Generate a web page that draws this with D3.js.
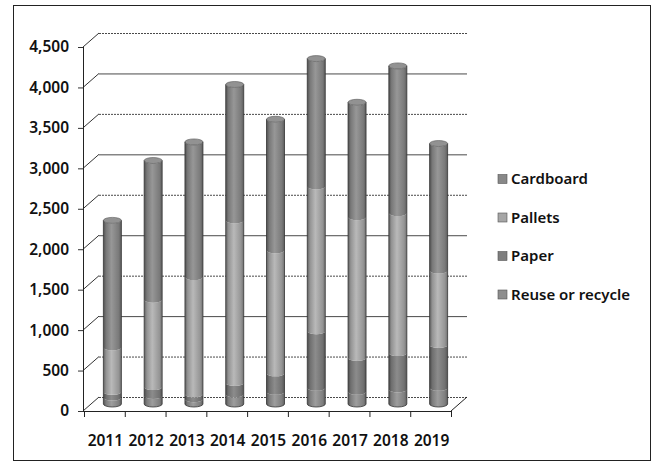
<!DOCTYPE html>
<html><head><meta charset="utf-8">
<script src="https://cdn.jsdelivr.net/npm/d3@7"></script>
<style>html,body{margin:0;padding:0;background:#fff;}svg{display:block;font-family:"Noto Sans",sans-serif;}</style>
</head><body>
<svg id="c" width="654" height="466"></svg>
<script>
const years = ["2011","2012","2013","2014","2015","2016","2017","2018","2019"];
const reuse     = [80, 100, 60, 120, 150, 200, 150, 180, 200];
const paper     = [70, 110, 60, 140, 230, 700, 420, 450, 530];
const pallets   = [550, 1080, 1450, 2010, 1520, 1790, 1740, 1730, 920];
const cardboard = [1570, 1720, 1670, 1680, 1620, 1580, 1420, 1820, 1570];
const seriesNames = ["Reuse or recycle","Paper","Pallets","Cardboard"];
const yTicks = [0,500,1000,1500,2000,2500,3000,3500,4000,4500];

const colors = {"Reuse or recycle":"#8d8d8d","Paper":"#7e7e7e","Pallets":"#a6a6a6","Cardboard":"#888888"};

const svg = d3.select("#c");
const DX=16, DY=-14;
const y = d3.scaleLinear().domain([0,4500]).range([411,47]);
const x = d3.scaleBand().domain(years).range([84,451]);

svg.append("rect").attr("x",13.5).attr("y",5.5).attr("width",637).attr("height",455)
  .attr("fill","none").attr("stroke","#222").attr("stroke-width",1);

const defs = svg.append("defs");
seriesNames.forEach((s,i)=>{
  const c = d3.color(colors[s]);
  const g = defs.append("linearGradient").attr("id","g"+i).attr("x1",0).attr("x2",1).attr("y1",0).attr("y2",0);
  g.append("stop").attr("offset","0%").attr("stop-color",c.darker(1.5));
  g.append("stop").attr("offset","15%").attr("stop-color",c.darker(0.35));
  g.append("stop").attr("offset","45%").attr("stop-color",c.brighter(0.3));
  g.append("stop").attr("offset","85%").attr("stop-color",c.darker(0.3));
  g.append("stop").attr("offset","100%").attr("stop-color",c.darker(1.1));
});

const grid = svg.append("g");
yTicks.forEach(t=>{
  const yf=y(t);
  grid.append("line").attr("x1",83+DX).attr("x2",451+DX).attr("y1",yf+DY+0.5).attr("y2",yf+DY+0.5)
    .attr("stroke","#4a4a4a").attr("stroke-width",1).attr("stroke-dasharray", t%1000===0&&t>0?null:"2,1");
  grid.append("line").attr("x1",83).attr("y1",yf).attr("x2",83+DX).attr("y2",yf+DY)
    .attr("stroke","#333").attr("stroke-width",1);
  grid.append("line").attr("x1",78).attr("x2",83).attr("y1",yf+0.5).attr("y2",yf+0.5)
    .attr("stroke","#333").attr("stroke-width",1);
});
svg.append("line").attr("x1",83.5).attr("x2",83.5).attr("y1",y(4500)).attr("y2",y(0)).attr("stroke","#222");
svg.append("line").attr("x1",83).attr("x2",451).attr("y1",411.5).attr("y2",411.5).attr("stroke","#222");
svg.append("line").attr("x1",451).attr("y1",411).attr("x2",451+DX).attr("y2",411+DY).attr("stroke","#222");
const tickXs = years.map(d=>x(d)).concat([x.range()[1]]);
tickXs.forEach(tx=>{
  svg.append("line").attr("x1",tx+0.5).attr("x2",tx+0.5).attr("y1",411).attr("y2",417).attr("stroke","#222");
});

svg.append("g").selectAll("text").data(yTicks).join("text")
  .attr("x",69).attr("y",d=>y(d)).attr("dy","0.35em").attr("text-anchor","end")
  .attr("font-size",15.5).attr("font-weight",600).attr("fill","#111")
  .text(d=>d3.format(",")(d));
svg.append("g").selectAll("text").data(years).join("text")
  .attr("x",d=>x(d)+x.bandwidth()/2+1).attr("y",441).attr("dy","0.35em").attr("text-anchor","middle")
  .attr("font-size",15.5).attr("font-weight",600).attr("fill","#111")
  .text(d=>d);

const data = years.map((yr,i)=>({year:yr,"Reuse or recycle":reuse[i],"Paper":paper[i],"Pallets":pallets[i],"Cardboard":cardboard[i]}));
const stack = d3.stack().keys(seriesNames)(data);
const rx=9, ry=3;
const bars = svg.append("g");
years.forEach((yr,j)=>{
  const cx = x(yr)+x.bandwidth()/2+DX/2;
  const L=cx-rx, R=cx+rx;
  stack.forEach((layer,i)=>{
    const d=layer[j];
    const yb=y(d[0])+DY/2, yt=y(d[1])+DY/2;
    const p=`M${L},${yt} L${L},${yb} A${rx},${ry} 0 0 0 ${R},${yb} L${R},${yt} A${rx},${ry} 0 0 1 ${L},${yt} Z`;
    bars.append("path").attr("d",p).attr("fill",`url(#g${i})`).attr("stroke","none");
  });
  const top=stack[stack.length-1][j][1];
  const yt=y(top)+DY/2, yb=y(0)+DY/2;
  bars.append("ellipse").attr("cx",cx).attr("cy",yt).attr("rx",rx).attr("ry",ry)
    .attr("fill",d3.color(colors["Cardboard"]).brighter(0.2)).attr("stroke","#555").attr("stroke-width",0.6);
  bars.append("path").attr("d",`M${L},${yt} L${L},${yb} A${rx},${ry} 0 0 0 ${R},${yb} L${R},${yt}`)
    .attr("fill","none").attr("stroke","#333").attr("stroke-width",0.8);
});

const legendOrder = ["Cardboard","Pallets","Paper","Reuse or recycle"];
const lg = svg.append("g");
legendOrder.forEach((s,i)=>{
  const ly = 179 + i*38.5;
  lg.append("rect").attr("x",498).attr("y",ly-4.5).attr("width",9).attr("height",9)
    .attr("fill",colors[s]).attr("stroke","#555").attr("stroke-width",0.6);
  lg.append("text").attr("x",511).attr("y",ly).attr("dy","0.35em")
    .attr("font-size",15).attr("font-weight",600).attr("fill","#111").text(s);
});
</script>
</body></html>
